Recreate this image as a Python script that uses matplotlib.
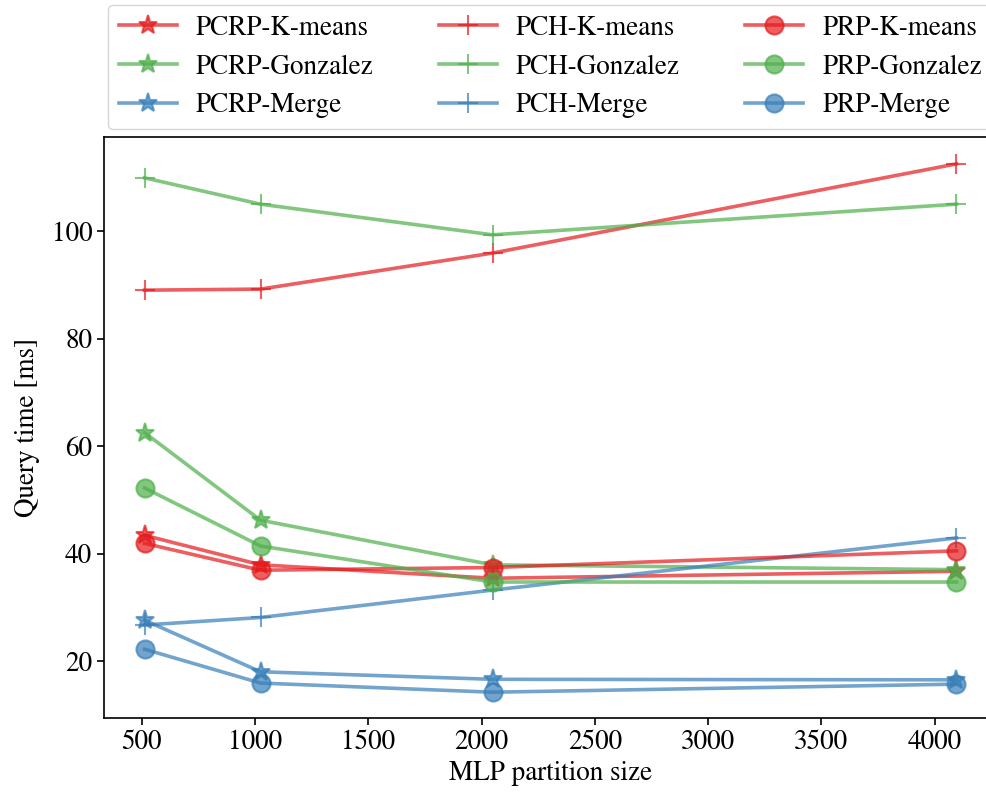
import numpy as np
import matplotlib
matplotlib.use('Agg')
import matplotlib.pyplot as plt

plt.rcParams['font.family'] = 'STIXGeneral'
plt.rcParams['mathtext.fontset'] = 'stix'

partition_sizes = [512, 1024, 2048, 4096]

methods = ["PCRP", "PCH", "PRP"]
clusterings = ["K-means", "Gonzalez", "Merge"]

# query time [ms]
pcrp_kmeans = [43.4, 37.9, 35.4, 36.7]
pcrp_gonzalez = [62.5, 46.2, 37.9, 37.0]
pcrp_merge = [27.6, 18.0, 16.6, 16.5]
pch_kmeans = [89.0, 89.2, 95.9, 112.5]
pch_gonzalez = [109.9, 105.0, 99.3, 105.0]
pch_merge = [26.7, 28.1, 33.2, 42.9]
prp_kmeans = [41.9, 36.9, 37.4, 40.5]
prp_gonzalez = [52.2, 41.4, 34.7, 34.7]
prp_merge = [22.2, 15.9, 14.2, 15.7]

series = {
    ("PCRP", "K-means"): pcrp_kmeans,
    ("PCRP", "Gonzalez"): pcrp_gonzalez,
    ("PCRP", "Merge"): pcrp_merge,
    ("PCH", "K-means"): pch_kmeans,
    ("PCH", "Gonzalez"): pch_gonzalez,
    ("PCH", "Merge"): pch_merge,
    ("PRP", "K-means"): prp_kmeans,
    ("PRP", "Gonzalez"): prp_gonzalez,
    ("PRP", "Merge"): prp_merge,
}

colors = {"K-means": "#e41a1c", "Gonzalez": "#4daf4a", "Merge": "#377eb8"}
markers = {"PCRP": ("*", 14), "PCH": ("+", 15), "PRP": ("o", 13)}

fig = plt.figure(figsize=(9.86, 7.96), dpi=100)
# the original plot runs past the right edge of the picture
ax = fig.add_axes([104/986, 78/796, 893/986, 581/796])

for m in methods:
    for c in clusterings:
        mk, ms = markers[m]
        ax.plot(partition_sizes, series[(m, c)], color=colors[c], marker=mk,
                markersize=ms, markeredgewidth=1.5, lw=2.6, alpha=0.7,
                label=f"{m}-{c}")

ax.set_xlabel("MLP partition size", fontsize=19.5, labelpad=4)
ax.set_ylabel("Query time [ms]", fontsize=19.5, labelpad=8)
ax.set_xticks([500, 1000, 1500, 2000, 2500, 3000, 3500, 4000])
ax.set_yticks([20, 40, 60, 80, 100])
ax.tick_params(labelsize=19.5, direction='out', length=5, width=1.2)
ax.set_xlim(333, 4275)
ax.set_ylim(9.4, 117.5)
for s in ax.spines.values():
    s.set_linewidth(1.2)

fig.legend(loc='upper left', bbox_to_anchor=(108/986, 1 - 5/796), ncol=3,
           fontsize=19.5, frameon=True, columnspacing=2.4, handlelength=2.15,
           handletextpad=0.7, borderaxespad=0.0, borderpad=0.4)

fig.savefig("out.png", dpi=100)
